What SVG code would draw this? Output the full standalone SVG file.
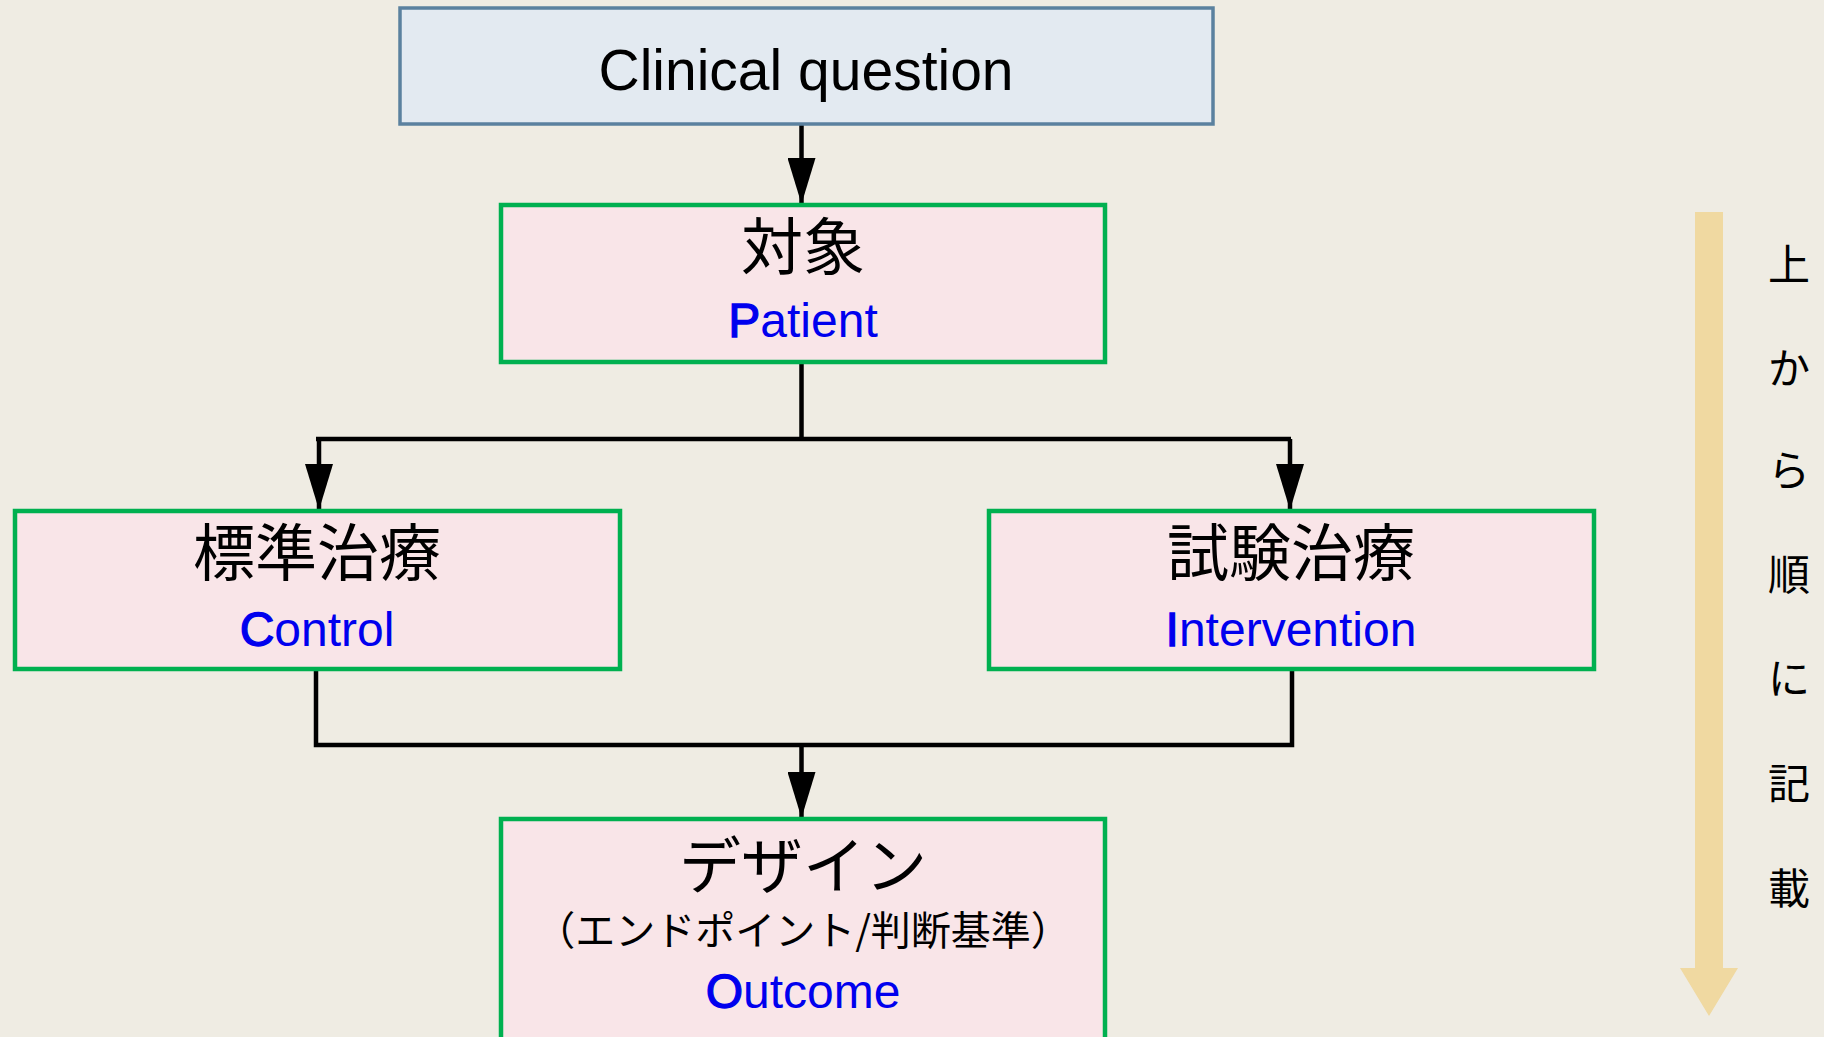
<svg xmlns="http://www.w3.org/2000/svg" width="1824" height="1037" viewBox="0 0 1824 1037">
<style>
.bg{fill:#efece3}
.q{fill:#e3eaf1;stroke:#5b819f;stroke-width:3.5}
.n{fill:#f9e5e8;stroke:#00b050;stroke-width:4.5}
.jp{font-family:"Noto Sans CJK JP","Noto Sans",sans-serif;fill:#000;text-anchor:middle}
.en{font-family:"Liberation Sans",Arial,sans-serif;fill:#0000ee;text-anchor:middle;font-size:48px}
.f{stroke:#0000ee;stroke-width:1.3}
.title{font-family:"Liberation Sans",Arial,sans-serif;fill:#000;text-anchor:middle;font-size:57px}
.c{fill:none;stroke:#000;stroke-width:4.5}
.side{font-family:"Noto Sans CJK JP",sans-serif;fill:#000;text-anchor:middle;font-size:42px}
</style>
<defs>
<marker id="ah" markerUnits="userSpaceOnUse" markerWidth="46" markerHeight="28" refX="46" refY="14" orient="auto">
<path d="M0,0 L46,14 L0,28 z" fill="#000"/>
</marker>
</defs>
<rect class="bg" x="0" y="0" width="1824" height="1037"/>

<g id="connectors">
<path class="c" d="M801.5,124 L801.5,204" marker-end="url(#ah)"/>
<path class="c" d="M801.5,362 L801.5,439 M316,439 L1291,439"/>
<path class="c" d="M319,439 L319,510" marker-end="url(#ah)"/>
<path class="c" d="M1290,439 L1290,510" marker-end="url(#ah)"/>
<path class="c" d="M316,669 L316,745 L1292,745 L1292,669"/>
<path class="c" d="M801.5,745 L801.5,818" marker-end="url(#ah)"/>
</g>

<g id="clinical-question">
<rect class="q" x="400" y="8" width="813" height="116"/>
<text class="title" x="806" y="90">Clinical question</text>
</g>

<g id="patient">
<rect class="n" x="501" y="205" width="604" height="157"/>
<text class="jp" x="803" y="270" font-size="62">対象</text>
<text class="en" x="803" y="337"><tspan class="f">P</tspan>atient</text>
</g>

<g id="control">
<rect class="n" x="15" y="511" width="605" height="158"/>
<text class="jp" x="317" y="576" font-size="62">標準治療</text>
<text class="en" x="317" y="646"><tspan class="f">C</tspan>ontrol</text>
</g>

<g id="intervention">
<rect class="n" x="989" y="511" width="605" height="158"/>
<text class="jp" x="1291" y="576" font-size="62">試験治療</text>
<text class="en" x="1291" y="646"><tspan class="f">I</tspan>ntervention</text>
</g>

<g id="outcome">
<rect class="n" x="501" y="819" width="604" height="230"/>
<text class="jp" x="803" y="889" font-size="62">デザイン</text>
<text class="jp" x="803" y="945" font-size="40">（エンドポイント/判断基準）</text>
<text class="en" x="803" y="1008"><tspan class="f">O</tspan>utcome</text>
</g>

<g id="order-arrow">
<path d="M1695,212 L1723,212 L1723,968 L1738,968 L1709,1016 L1680,968 L1695,968 z" fill="#f0d9a1"/>
<text class="side" x="1789" y="280">上</text>
<text class="side" x="1789" y="384">か</text>
<text class="side" x="1789" y="486">ら</text>
<text class="side" x="1789" y="590">順</text>
<text class="side" x="1789" y="694">に</text>
<text class="side" x="1789" y="799">記</text>
<text class="side" x="1789" y="904">載</text>
</g>
</svg>
